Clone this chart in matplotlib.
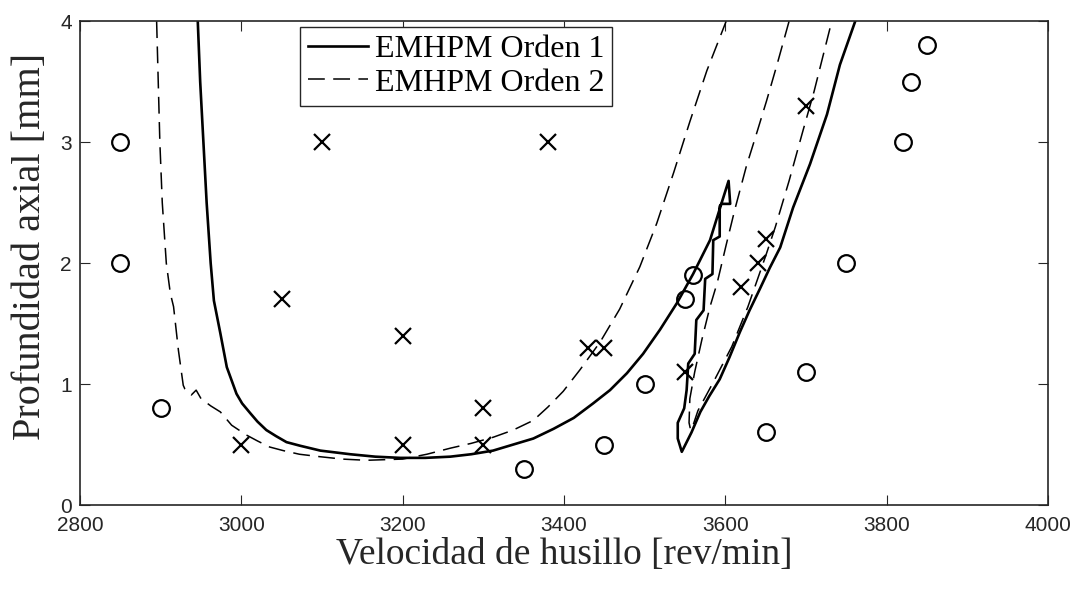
import matplotlib.pyplot as plt

# Stability lobes (EMHPM), spindle speed [rev/min] vs axial depth [mm]
orden1_x = [2946, 2949, 2953, 2957, 2962, 2966, 2974, 2982, 2994, 3001, 3011, 3020,
            3031, 3043, 3056, 3073, 3098, 3135, 3166, 3197, 3228, 3259, 3285, 3312,
            3337, 3362, 3387, 3412, 3436, 3457, 3478, 3498, 3519, 3540, 3560, 3581,
            3595, 3604, 3606, 3595, 3593, 3593, 3585, 3584, 3575, 3573, 3564, 3562,
            3554, 3552, 3549, 3541, 3541, 3546, 3558, 3569, 3580, 3593, 3605, 3618,
            3630, 3643, 3655, 3668, 3684, 3705, 3726, 3742, 3761]
orden1_y = [4.00, 3.50, 3.00, 2.50, 2.00, 1.69, 1.42, 1.14, 0.92, 0.84, 0.76, 0.69,
            0.62, 0.57, 0.52, 0.49, 0.45, 0.42, 0.40, 0.39, 0.39, 0.40, 0.42, 0.45,
            0.50, 0.55, 0.63, 0.72, 0.84, 0.95, 1.09, 1.25, 1.45, 1.67, 1.91, 2.19,
            2.49, 2.68, 2.49, 2.49, 2.47, 2.22, 2.19, 1.91, 1.87, 1.61, 1.53, 1.25,
            1.17, 0.95, 0.80, 0.68, 0.55, 0.44, 0.60, 0.77, 0.90, 1.04, 1.22, 1.43,
            1.61, 1.79, 1.96, 2.13, 2.46, 2.82, 3.23, 3.64, 4.00]

orden2_x = [2895, 2897, 2899, 2902, 2907, 2912, 2916, 2922, 2928, 2930, 2938, 2944,
            2950, 2962, 2974, 2988, 3006, 3020, 3035, 3052, 3072, 3097, 3125, 3155,
            3200, 3230, 3259, 3285, 3312, 3337, 3362, 3380, 3399, 3420, 3445, 3469,
            3494, 3515, 3536, 3556, 3577, 3601]
orden2_y = [4.00, 3.50, 3.00, 2.50, 2.00, 1.75, 1.64, 1.28, 0.99, 0.96, 0.91, 0.95,
            0.88, 0.82, 0.77, 0.66, 0.58, 0.53, 0.48, 0.45, 0.42, 0.40, 0.38, 0.37,
            0.38, 0.42, 0.47, 0.51, 0.56, 0.62, 0.70, 0.81, 0.94, 1.12, 1.35, 1.62,
            1.97, 2.33, 2.75, 3.17, 3.59, 4.00]

# second lobe of the order-2 solution
orden2b_x = [3679, 3664, 3651, 3640, 3626, 3612, 3601, 3590, 3581, 3571, 3562, 3556,
             3555, 3557, 3560, 3566, 3587, 3608, 3628, 3650, 3662, 3679, 3696, 3710,
             3730, 3732]
orden2b_y = [4.00, 3.64, 3.34, 3.10, 2.80, 2.45, 2.15, 1.84, 1.64, 1.37, 1.10, 0.88,
             0.68, 0.62, 0.66, 0.78, 1.04, 1.31, 1.64, 2.06, 2.30, 2.68, 3.09, 3.42,
             3.95, 4.00]

# experimental cuts: stable (o) and chatter (x)
estable_x = [2850, 2850, 2900, 3350, 3450, 3500, 3550, 3560, 3650, 3700, 3750, 3820, 3830, 3850]
estable_y = [3.0, 2.0, 0.8, 0.3, 0.5, 1.0, 1.7, 1.9, 0.6, 1.1, 2.0, 3.0, 3.5, 3.8]
chatter_x = [3000, 3050, 3100, 3200, 3200, 3300, 3300, 3380, 3430, 3450, 3550, 3620, 3640, 3650, 3700]
chatter_y = [0.5, 1.7, 3.0, 1.4, 0.5, 0.8, 0.5, 3.0, 1.3, 1.3, 1.1, 1.8, 2.0, 2.2, 3.3]

serif = 'Liberation Serif'
sans = 'Liberation Sans'
dark = '#262626'

fig = plt.figure(figsize=(10.78, 5.9), dpi=100)
ax = fig.add_axes([0.0742, 0.144, 0.898, 0.820])

dash = (0, (11, 5.5))
ax.plot(orden1_x, orden1_y, color='black', lw=1.9, label='EMHPM Orden 1')
ax.plot(orden2_x, orden2_y, color='black', lw=1.1, linestyle=dash, label='EMHPM Orden 2')
ax.plot(orden2b_x, orden2b_y, color='black', lw=1.1, linestyle=dash)

ax.plot(estable_x, estable_y, linestyle='none', marker='o', ms=12,
        mfc='none', mec='black', mew=1.6)
ax.plot(chatter_x, chatter_y, linestyle='none', marker='x', ms=12,
        mec='black', mew=1.6)

ax.set_xlim(2800, 4000)
ax.set_ylim(0, 4)
ax.set_xticks([2800, 3000, 3200, 3400, 3600, 3800, 4000])
ax.set_yticks([0, 1, 2, 3, 4])

for s in ax.spines.values():
    s.set_color(dark)
    s.set_linewidth(1.2)
ax.tick_params(direction='in', length=7, width=0.8, color=dark,
               top=True, right=True, labelcolor=dark)
ax.tick_params(axis='x', pad=8)
ax.tick_params(axis='y', pad=6)
for lab in ax.get_xticklabels() + ax.get_yticklabels():
    lab.set_fontfamily(sans)
    lab.set_fontsize(15)

ax.set_xlabel('Velocidad de husillo [rev/min]', fontfamily=serif, fontsize=27,
              color=dark, labelpad=2)
ax.set_ylabel('Profundidad axial [mm]', fontfamily=serif, fontsize=29,
              color=dark)
ax.yaxis.set_label_coords(-0.032, 0.535)

leg = ax.legend(loc='upper left', bbox_to_anchor=(0.227, 0.988), borderaxespad=0,
                prop={'family': serif, 'size': 23}, fancybox=False, framealpha=1,
                edgecolor=dark, handlelength=1.9, handletextpad=0.2,
                borderpad=0.25, labelspacing=0.12)
leg.get_frame().set_linewidth(1.0)

fig.savefig('out.png', dpi=100)
